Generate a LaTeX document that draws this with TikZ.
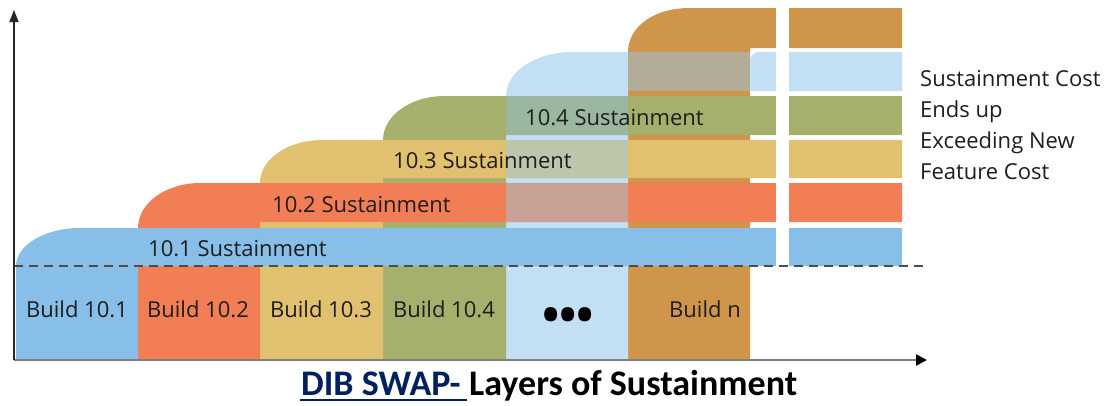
\documentclass[tikz,border=0pt]{standalone}
\usepackage{fontspec}
\setmainfont{Open Sans}
\newfontfamily\titlefont{Carlito}
\usetikzlibrary{arrows.meta}
\definecolor{cBlue}{HTML}{88BFE8}
\definecolor{cOrange}{HTML}{F27E55}
\definecolor{cYellow}{HTML}{E1C070}
\definecolor{cGreen}{HTML}{A5B06D}
\definecolor{cLight}{HTML}{C2DFF3}
\definecolor{cBrown}{HTML}{CF964B}
\definecolor{mGreen}{HTML}{9CB7A0}
\definecolor{mYellow}{HTML}{BDC5AA}
\definecolor{mOrange}{HTML}{C8A197}
\definecolor{mLight}{HTML}{B3AC98}
\definecolor{navy}{HTML}{002060}
\definecolor{txt}{HTML}{1E1E1E}
\begin{document}
\begin{tikzpicture}[x=1pt,y=-1pt,
  lbl/.style={font=\fontsize{22}{31}\selectfont, text=txt, inner sep=0pt, anchor=base west},
  bld/.style={font=\fontsize{22}{31}\selectfont, text=txt, inner sep=0pt, anchor=base},
  ttl/.style={font=\titlefont\bfseries\fontsize{36}{40}\selectfont, inner sep=0pt, anchor=base west},
  axis/.style={line width=1.5pt, color=black!85},
  dashline/.style={dash pattern=on 9pt off 6pt, line width=1.5pt, color=black!70}]
\useasboundingbox (0,0) rectangle (1107,405);
% build shapes (back to front)
\fill[cBrown] (628,359) -- (628,52) .. controls (628,28) and (652,8) .. (690,8) -- (902,8) -- (902,48) -- (750,48) -- (750,359) -- cycle;
\fill[cLight] (506,359) -- (506,96) .. controls (506,72) and (535,52) .. (573,52) -- (628,52) -- (628,359) -- cycle;
\fill[cGreen] (383,359) -- (383,140) .. controls (383,116) and (410,96) .. (445,96) -- (902,96) -- (902,135) -- (506,135) -- (506,359) -- cycle;
\fill[cYellow] (260,359) -- (260,183) .. controls (260,159) and (288,140) .. (322,140) -- (902,140) -- (902,178) -- (383,178) -- (383,359) -- cycle;
\fill[cOrange] (138,359) -- (138,228) .. controls (138,203) and (166,183) .. (200,183) -- (902,183) -- (902,222) -- (260,222) -- (260,359) -- cycle;
\fill[cBlue] (16,359) -- (16,266) .. controls (16,245) and (45,228) .. (80,228) -- (902,228) -- (902,266) -- (138,266) -- (138,359) -- cycle;
% blended parts
\fill[mGreen] (506,96) rectangle (628,135);
\fill[mYellow] (506,140) rectangle (628,178);
\fill[mOrange] (506,183) rectangle (628,222);
\fill[mLight] (628,52) rectangle (750,91);
\fill[cLight] (750,91) -- (750,61) .. controls (750,56) and (754,52) .. (759,52) -- (902,52) -- (902,91) -- cycle;
% break
\fill[white] (776,0) rectangle (789,267);
% dashed line and axes
\coordinate (dA) at (14,266);
\coordinate (dB) at (925,266);
\draw[dashline] (dA) -- (dB);
\coordinate (O) at (14,360);
\coordinate (ytop) at (14,10);
\coordinate (xend) at (927,360);
\draw[line width=2.5pt, color=black!50, -{Triangle[length=11pt,width=11pt,color=black]}] (O) -- (xend);
\draw[axis, -{Triangle[length=12pt,width=9pt]}] (O) -- (ytop);
% labels
\node[lbl] (s1) at (148,256) {10.1 Sustainment};
\node[lbl] (s2) at (272,212) {10.2 Sustainment};
\node[lbl] (s3) at (393,168) {10.3 Sustainment};
\node[lbl] (s4) at (525,125) {10.4 Sustainment};
\node[bld] (b1) at (77,317) {Build 10.1};
\node[bld] (b2) at (198,317) {Build 10.2};
\node[bld] (b3) at (321,317) {Build 10.3};
\node[bld] (b4) at (444,317) {Build 10.4};
\node[bld, font=\fontsize{46}{46}\selectfont\bfseries, text=black] (b5) at (568,331) {•••};
\node[bld] (b6) at (705,317) {Build n};
\node[lbl, anchor=north west, align=left] (note) at (920,70) {Sustainment Cost\\Ends up\\Exceeding New\\Feature Cost};
% title
\node[ttl, text=navy] (tA) at (301,395) {DIB SWAP-};
\node[ttl, text=black] (tB) at ([xshift=8pt]tA.base east) {Layers of Sustainment};
\coordinate (u1) at ([xshift=-1pt,yshift=-5pt]tA.base west);
\coordinate (u2) at ([xshift=-2pt,yshift=-5pt]tB.base west);
\draw[navy, line width=2.5pt] (u1) -- (u2);
\end{tikzpicture}
\end{document}
